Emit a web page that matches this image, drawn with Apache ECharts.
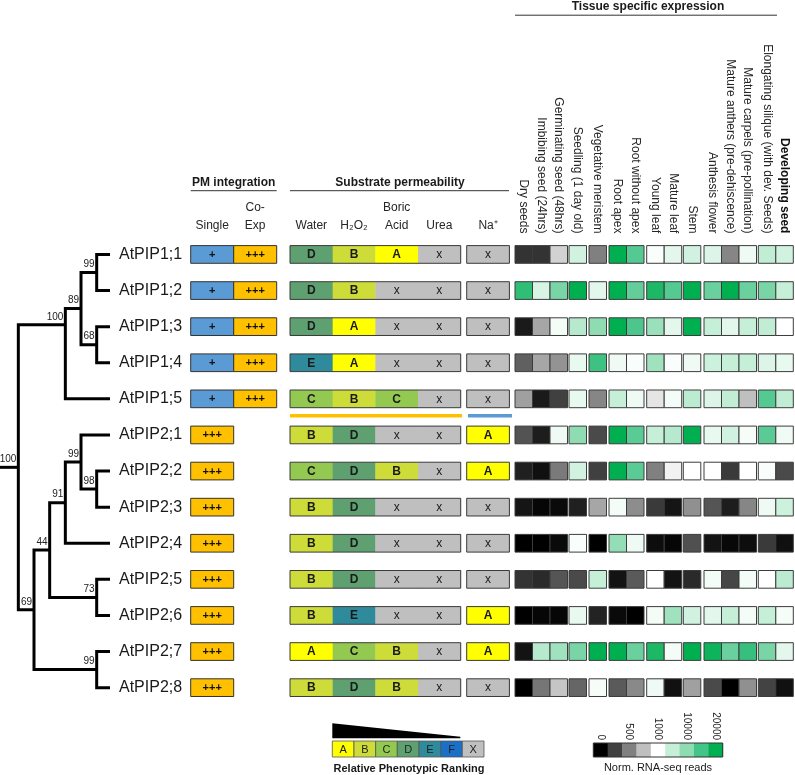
<!DOCTYPE html>
<html><head><meta charset="utf-8">
<script src="https://cdn.jsdelivr.net/npm/echarts@6/dist/echarts.min.js"></script>
<style>html,body{margin:0;padding:0;background:#fff}#c{width:795px;height:775px}</style>
</head><body><div id="c"></div>
<script>
// ---------------- DATA ----------------
const genes = ['AtPIP1;1','AtPIP1;2','AtPIP1;3','AtPIP1;4','AtPIP1;5','AtPIP2;1','AtPIP2;2','AtPIP2;3','AtPIP2;4','AtPIP2;5','AtPIP2;6','AtPIP2;7','AtPIP2;8'];

// phylogeny: b = bootstrap, d = depth level, c = children (gene index or node), y = read-off node row
const tree = {b:'100', d:0, c:[
  {b:'100', d:3, y:1.95, c:[ {b:'89', d:4, c:[ {b:'99', d:5, c:[0,1]}, {b:'68', d:5, c:[2,3]} ]}, 4 ]},
  {b:'69', d:1, c:[
    {b:'44', d:2, c:[
      {b:'91', d:3, c:[ {b:'99', d:4, c:[5, {b:'98', d:5, c:[6,7]}]}, 8 ]},
      {b:'73', d:5, c:[9,10]} ]},
    {b:'99', d:5, c:[11,12]} ]}
]};
const leafDepth = 5.85, stubDepth = -1.17;

const pmColumns = ['Single', 'Co-\nExp'];
const pmSingle = ['+','+','+','+','+','+++','+++','+++','+++','+++','+++','+++','+++'];
const pmCoExp  = ['+++','+++','+++','+++','+++',null,null,null,null,null,null,null,null];

const substrateColumns = ['Water', 'H\u2082O\u2082', 'Boric\nAcid', 'Urea'];
const water = ['D','D','D','E','C','B','C','B','B','B','B','A','B'];
const h2o2  = ['B','B','A','A','B','D','D','D','D','D','E','C','D'];
const boric = ['A','x','x','x','C','x','B','x','x','x','x','B','B'];
const urea  = ['x','x','x','x','x','x','x','x','x','x','x','x','x'];
const naColumns = ['Na\u207A'];
const sodium = ['x','x','x','x','x','A','A','x','x','x','A','A','x'];

const rankLetters = ['A','B','C','D','E','F','X'];

const tissueGroups = [
  ['Dry seeds','Imbibing seed (24hrs)','Germinating seed (48hrs)'],
  ['Seedling (1 day old)'],
  ['Vegetative meristem'],
  ['Root apex','Root without apex'],
  ['Young leaf','Mature leaf'],
  ['Stem'],
  ['Anthesis flower','Mature anthers (pre-dehiscence)','Mature carpels (pre-pollination)'],
  ['Elongating silique (with dev. Seeds)','Developing seed']
];
// expression as colour-scale level (0..8 = legend swatches), one row per gene, 15 tissues
const exprLevels = [
  [0.8,0.8,3.3,4.8,2.0,8,6.8,4.1,4.5,4.8,4.6,2.1,4.3,5.1,4.8],
  [7.3,4.7,6.3,8,4.5,8,6.6,7.6,6.8,8,6.5,8,6.5,6.3,5.0],
  [0.4,2.6,4.2,5.3,6.0,8,6.9,5.8,4.5,8,5.0,4.5,5.0,5.1,4.0],
  [1.5,2.6,2.3,4.4,7.1,4.3,4.1,5.7,4.1,4.3,4.9,5.0,5.0,4.6,4.4],
  [2.5,0.4,1.0,4.4,2.1,5.0,4.3,3.6,4.2,5.2,4.6,5.1,3.0,6.8,5.1],
  [1.3,0.45,4.3,6.0,1.15,8,6.7,5.0,5.3,8,4.4,4.8,4.15,6.7,4.25],
  [0.5,0.25,1.9,4.8,1.0,8,6.7,2.0,3.8,4,4,0.9,4,4.1,1.15],
  [0.33,0.1,0.15,0.5,2.6,4.2,2.2,0.9,0.33,2.25,1.33,0.45,2.1,4.3,4.9],
  [0,0,0.15,4.1,0,5.9,4.3,0.2,0.1,1.25,0.3,0.12,0.2,0.9,0.25],
  [0.8,0.65,1.33,1.15,5.0,0.3,1.4,4,0.3,0.65,4.2,1.1,4.2,4,5.2],
  [0,0.1,0.1,4.4,0.55,0.15,0,4.2,5.7,4.8,4.5,5.0,4.2,5.0,4.15],
  [0.3,5.3,5.7,6.3,8,8,6.5,7.6,4.2,8,7.8,6.5,7.2,6.3,4.5],
  [0,1.85,3.1,1.6,4.15,1.4,2.15,4.3,0.27,2.5,1.15,0,2.25,1.05,0.27]
];
const colorbarLevels = [0,1,2,3,4,5,6,7,8];
const colorbarTicks = ['0','','500','','1000','','10000','','20000'];

// ---------------- STYLE ----------------
const FONT = 'Liberation Sans, Arial, sans-serif';
const TXT = '#262626';
const RANK_COLORS = {A:'#ffff00', B:'#cddc39', C:'#93c950', D:'#5fa071', E:'#2f8a9c', F:'#1a70c6', X:'#bfbfbf', x:'#bfbfbf'};
const PM_COLORS = {'+':'#5b9bd5', '+++':'#ffc000'};
const EXPR_COLORS = ['#000000','#404040','#808080','#bfbfbf','#ffffff','#c6efd8','#8fdcb3','#45c488','#00b050'];
const GT = 236.4, GH = 469.3, CELL_H = 0.49;
const groupLeft = [515, 569, 589, 609, 646.7, 683.3, 704, 758.3];
const CELL_W = 17.5;

// ---------------- BUILD ----------------
const grids = [], xAxes = [], yAxes = [], series = [];
function addGrid(g) { grids.push(Object.assign({containLabel:false, outerBoundsMode:'none'}, g)); return grids.length - 1; }
function hiddenCatY(gi) {
  yAxes.push({type:'category', gridIndex:gi, data:genes, inverse:true, show:false});
  return yAxes.length - 1;
}
function cellRect(api, col, row, hf) {
  const c = api.coord([col, row]); const s = api.size([1, 1]);
  const w = s[0], h = s[1] * hf;
  return {x:c[0]-w/2, y:c[1]-h/2, width:w, height:h};
}
function topCatX(gi, data, extra) {
  xAxes.push(Object.assign({type:'category', gridIndex:gi, data:data, position:'top',
    axisLine:{show:false}, axisTick:{show:false}, splitLine:{show:false},
    axisLabel:{interval:0, fontFamily:FONT, fontSize:12, color:TXT, margin:2, lineHeight:18}}, extra || {}));
  return xAxes.length - 1;
}

// --- tree ---
const gTree = addGrid({left:0, top:GT, width:110, height:GH});
xAxes.push({type:'value', gridIndex:gTree, min:stubDepth, max:leafDepth, show:false});
const xTree = xAxes.length - 1;
yAxes.push({type:'value', gridIndex:gTree, min:-0.5, max:12.5, inverse:true, show:false});
const yTree = yAxes.length - 1;
yAxes.push({type:'category', gridIndex:gTree, data:genes, inverse:true, position:'right',
  axisLine:{show:false}, axisTick:{show:false},
  axisLabel:{fontFamily:FONT, fontSize:16, color:'#1a1a1a', margin:9, align:'left'}});

const brackets = [], boot = [];
function layout(n) {
  if (typeof n === 'number') return {x:leafDepth, y:n};
  const kids = n.c.map(layout);
  const a = kids[0], b = kids[kids.length-1];
  const y = (n.y !== undefined) ? n.y : (a.y + b.y) / 2;
  brackets.push([a.x, a.y, n.d, b.y, b.x]);
  boot.push([n.d, y, n.b]);
  return {x:n.d, y:y};
}
const rootPos = layout(tree);
brackets.push([rootPos.x, rootPos.y, rootPos.x, rootPos.y, stubDepth]);

series.push({type:'custom', xAxisIndex:xTree, yAxisIndex:yTree, data:brackets, silent:true,
  renderItem:(p, api) => {
    const v = [0,1,2,3,4].map(i => api.value(i));
    const pts = [api.coord([v[0],v[1]]), api.coord([v[2],v[1]]), api.coord([v[2],v[3]]), api.coord([v[4],v[3]])];
    return {type:'polyline', shape:{points:pts}, style:{stroke:'#000', lineWidth:3, fill:null, lineJoin:'miter', lineCap:'butt'}};
  }});
series.push({type:'custom', xAxisIndex:xTree, yAxisIndex:yTree, data:boot.map(b => [b[0], b[1]]), silent:true,
  renderItem:(p, api) => {
    const c = api.coord([api.value(0), api.value(1)]);
    return {type:'text', style:{text:boot[p.dataIndex][2], x:c[0]-2, y:c[1]-3, align:'right', verticalAlign:'bottom',
      fontFamily:FONT, fontSize:10, fill:'#222'}};
  }});

// --- PM integration ---
const gPM = addGrid({left:190.7, top:GT, width:86, height:GH});
const xPM = topCatX(gPM, pmColumns);
const yPM = hiddenCatY(gPM);
const pmItems = [];
genes.forEach((g, i) => { if (pmSingle[i]) pmItems.push({value:[0,i], sym:pmSingle[i]}); if (pmCoExp[i]) pmItems.push({value:[1,i], sym:pmCoExp[i]}); });
series.push({type:'custom', xAxisIndex:xPM, yAxisIndex:yPM, data:pmItems.map(d => d.value), silent:true,
  renderItem:(p, api) => {
    const it = pmItems[p.dataIndex];
    const r = cellRect(api, api.value(0), api.value(1), CELL_H);
    return {type:'group', children:[
      {type:'rect', shape:r, style:{fill:PM_COLORS[it.sym], stroke:'#333', lineWidth:1}},
      {type:'text', style:{text:it.sym, x:r.x+r.width/2, y:r.y+r.height/2+0.5, align:'center', verticalAlign:'middle',
        fontFamily:FONT, fontSize:11, fontWeight:'bold', fill:'#111'}}]};
  }});

// --- substrate permeability + Na ---
function rankBlock(left, width, cols, arrays) {
  const gi = addGrid({left:left, top:GT, width:width, height:GH});
  const xi = topCatX(gi, cols);
  const yi = hiddenCatY(gi);
  const items = [];
  arrays.forEach((arr, ci) => arr.forEach((v, gi2) => items.push({value:[ci, gi2], r:v})));
  series.push({type:'custom', xAxisIndex:xi, yAxisIndex:yi, data:items.map(d => d.value), silent:true,
    renderItem:(p, api) => {
      const it = items[p.dataIndex];
      const r = cellRect(api, api.value(0), api.value(1), CELL_H);
      const bold = it.r !== 'x';
      return {type:'group', children:[
        {type:'rect', shape:{x:r.x, y:r.y, width:r.width+0.4, height:r.height}, style:{fill:RANK_COLORS[it.r]}},
        {type:'text', style:{text:it.r, x:r.x+r.width/2, y:r.y+r.height/2+0.5, align:'center', verticalAlign:'middle',
          fontFamily:FONT, fontSize:bold?12:12, fontWeight:bold?'bold':'normal', fill:'#1a1a1a'}}]};
    }});
  // outline of each row box
  const last = cols.length - 1;
  series.push({type:'custom', xAxisIndex:xi, yAxisIndex:yi, data:genes.map((g, i) => [0, i]), silent:true,
    renderItem:(p, api) => {
      const a = cellRect(api, 0, api.value(1), CELL_H), b = cellRect(api, last, api.value(1), CELL_H);
      return {type:'rect', shape:{x:a.x, y:a.y, width:b.x+b.width-a.x, height:a.height}, style:{fill:null, stroke:'#3a3a3a', lineWidth:1}};
    }});
}
rankBlock(290, 170.7, substrateColumns, [water, h2o2, boric, urea]);
rankBlock(466.7, 42.7, naColumns, [sodium]);

// --- tissue expression heatmap ---
let tissueOffset = 0;
tissueGroups.forEach((grp, gIdx) => {
  const gi = addGrid({left:groupLeft[gIdx], top:GT, width:CELL_W*grp.length, height:GH});
  const data = grp.map(t => (t === 'Developing seed') ? {value:t, textStyle:{fontWeight:'bold', color:'#111'}} : t);
  const xi = topCatX(gi, data, {axisLabel:{interval:0, rotate:90, fontFamily:FONT, fontSize:12, color:TXT, margin:3}});
  const yi = hiddenCatY(gi);
  const items = [];
  const off = tissueOffset;
  genes.forEach((g, r) => grp.forEach((t, c) => items.push([c, r, exprLevels[r][off + c]])));
  series.push({type:'custom', xAxisIndex:xi, yAxisIndex:yi, data:items, silent:true,
    renderItem:(p, api) => {
      const r = cellRect(api, api.value(0), api.value(1), CELL_H);
      return {type:'rect', shape:r, style:{fill:echarts.color.lerp(api.value(2)/8, EXPR_COLORS), stroke:'#3c3c3c', lineWidth:1}};
    }});
  tissueOffset += grp.length;
});

// --- ranking legend ---
const gRank = addGrid({left:332.3, top:741, width:151.7, height:16});
xAxes.push({type:'category', gridIndex:gRank, data:rankLetters, show:false});
const xRank = xAxes.length - 1;
yAxes.push({type:'category', gridIndex:gRank, data:[''], show:false});
const yRank = yAxes.length - 1;
series.push({type:'custom', xAxisIndex:xRank, yAxisIndex:yRank, data:rankLetters.map((l, i) => [i, 0]), silent:true,
  renderItem:(p, api) => {
    const r = cellRect(api, api.value(0), 0, 1);
    const l = rankLetters[p.dataIndex];
    return {type:'group', children:[
      {type:'rect', shape:r, style:{fill:RANK_COLORS[l], stroke:'#555', lineWidth:0.8}},
      {type:'text', style:{text:l, x:r.x+r.width/2, y:r.y+r.height/2+0.5, align:'center', verticalAlign:'middle',
        fontFamily:FONT, fontSize:11, fill:'#222'}}]};
  }});
// wedge above A..F
series.push({type:'custom', xAxisIndex:xRank, yAxisIndex:yRank, data:[[0,0]], silent:true,
  renderItem:(p, api) => {
    const a = cellRect(api, 0, 0, 1), f = cellRect(api, 5, 0, 1);
    const L = a.x, R = f.x + f.width - 2, B = a.y - 2.7;
    return {type:'polygon', shape:{points:[[L, B-15], [R, B-1.6], [R, B], [L, B]]}, style:{fill:'#000'}};
  }});

// --- expression colour bar ---
const gBar = addGrid({left:593.3, top:743, width:129.4, height:14});
xAxes.push({type:'category', gridIndex:gBar, data:colorbarTicks, position:'top',
  axisLine:{show:false}, axisTick:{show:false},
  axisLabel:{interval:0, rotate:90, fontFamily:FONT, fontSize:10, color:TXT, margin:3}});
const xBar = xAxes.length - 1;
yAxes.push({type:'category', gridIndex:gBar, data:[''], show:false});
const yBar = yAxes.length - 1;
series.push({type:'custom', xAxisIndex:xBar, yAxisIndex:yBar, data:colorbarLevels.map((v, i) => [i, 0, v]), silent:true,
  renderItem:(p, api) => {
    const r = cellRect(api, api.value(0), 0, 1);
    const col = echarts.color.lerp(api.value(2)/8, EXPR_COLORS);
    return {type:'rect', shape:{x:r.x, y:r.y, width:r.width+0.4, height:r.height}, style:{fill:col}};
  }});
series.push({type:'custom', xAxisIndex:xBar, yAxisIndex:yBar, data:[[0,0]], silent:true,
  renderItem:(p, api) => {
    const a = cellRect(api, 0, 0, 1), b = cellRect(api, colorbarLevels.length-1, 0, 1);
    return {type:'rect', shape:{x:a.x, y:a.y, width:b.x+b.width-a.x, height:a.height}, style:{fill:null, stroke:'#333', lineWidth:1}};
  }});

// --- headers / decorations ---
const hdr = (text, x, y, size, weight) => ({type:'text', left:x, top:y, style:{text:text, x:0, y:0, align:'center', verticalAlign:'middle',
  fontFamily:FONT, fontSize:size, fontWeight:weight, fill:'#1a1a1a'}});
const hline = (x1, x2, y, color, w) => ({type:'line', shape:{x1:x1, y1:y, x2:x2, y2:y}, style:{stroke:color, lineWidth:w}});
const graphic = [
  {type:'text', style:{text:'PM integration', x:233.7, y:183, align:'center', verticalAlign:'middle', fontFamily:FONT, fontSize:12, fontWeight:'bold', fill:'#1a1a1a'}},
  hline(190.7, 276.7, 190.7, '#333', 1),
  {type:'text', style:{text:'Substrate permeability', x:400, y:183, align:'center', verticalAlign:'middle', fontFamily:FONT, fontSize:12, fontWeight:'bold', fill:'#1a1a1a'}},
  hline(290, 509, 190.7, '#333', 1),
  {type:'text', style:{text:'Tissue specific expression', x:648, y:7, align:'center', verticalAlign:'middle', fontFamily:FONT, fontSize:12, fontWeight:'bold', fill:'#1a1a1a'}},
  hline(515, 777, 15.2, '#333', 1),
  hline(290, 462, 415.8, '#ffc000', 3.5),
  hline(468, 512, 415.8, '#5b9bd5', 3.5),
  {type:'text', style:{text:'Relative Phenotypic Ranking', x:409, y:769, align:'center', verticalAlign:'middle', fontFamily:FONT, fontSize:11, fontWeight:'bold', fill:'#1a1a1a'}},
  {type:'text', style:{text:'Norm. RNA-seq reads', x:658, y:768, align:'center', verticalAlign:'middle', fontFamily:FONT, fontSize:11, fill:'#1a1a1a'}}
];

const chart = echarts.init(document.getElementById('c'), null, {renderer:'canvas'});
chart.setOption({animation:false, backgroundColor:'#fff', grid:grids, xAxis:xAxes, yAxis:yAxes, series:series, graphic:graphic});
</script></body></html>
